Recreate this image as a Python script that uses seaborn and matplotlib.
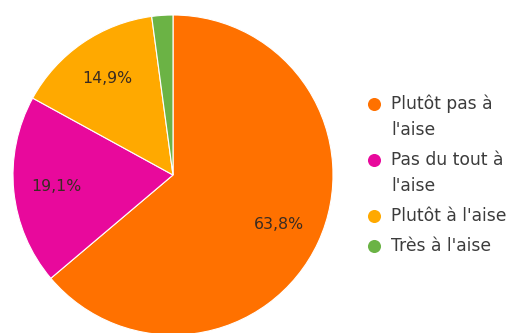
import textwrap

import matplotlib
matplotlib.use("Agg")
import matplotlib.pyplot as plt
from matplotlib.lines import Line2D
import seaborn as sns

# Survey answers: how comfortable respondents feel (number of responses)
categories = ["Plutôt pas à l'aise", "Pas du tout à l'aise", "Plutôt à l'aise", "Très à l'aise"]
responses = [30, 9, 7, 1]
slice_colors = ["#FF7100", "#E8099C", "#FFA900", "#6BB345"]

sns.set_theme(style="white")
plt.rcParams["font.family"] = ["DejaVu Sans"]

W, H, DPI = 507, 333, 100
fig = plt.figure(figsize=(W / DPI, H / DPI), dpi=DPI)
fig.patch.set_facecolor("white")


def px(x, y):
    """Pixel position (from top-left) to figure fraction."""
    return x / W, 1 - y / H


# Pie area: centre (173, 175) px, radius 160 px
cx, cy, r = 173, 175, 160
ax = fig.add_axes([(cx - r) / W, (H - cy - r) / H, 2 * r / W, 2 * r / H])
palette = sns.color_palette(slice_colors)


def pct_label(p):
    return f"{p:.1f}%".replace(".", ",") if p >= 5 else ""


wedges, _, autotexts = ax.pie(
    responses,
    colors=palette,
    startangle=90,
    counterclock=False,
    radius=1.0,
    autopct=pct_label,
    pctdistance=0.73,
    wedgeprops=dict(edgecolor="white", linewidth=0.8),
    textprops=dict(fontsize=11.3, color="#3a2c22"),
)
ax.set_xlim(-1, 1)
ax.set_ylim(-1, 1)
ax.set_aspect("equal")
ax.axis("off")

# Legend drawn on the right, wrapped labels with round markers
marker_x, text_x = 374, 391
line_h, item_gap = 26, 4
y = 104
for label, color in zip(categories, palette):
    fx, fy = px(marker_x, y)
    fig.add_artist(Line2D([fx], [fy], marker="o", markersize=9.4, color=color,
                          markeredgewidth=0, transform=fig.transFigure))
    lines = textwrap.wrap(label, width=15)
    for k, line in enumerate(lines):
        tx, ty = px(text_x, y + k * line_h)
        fig.text(tx, ty, line, fontsize=12.3, color="#3c3c3c", ha="left", va="center")
    y += len(lines) * line_h + item_gap

fig.savefig("out.png", dpi=DPI, facecolor="white")
